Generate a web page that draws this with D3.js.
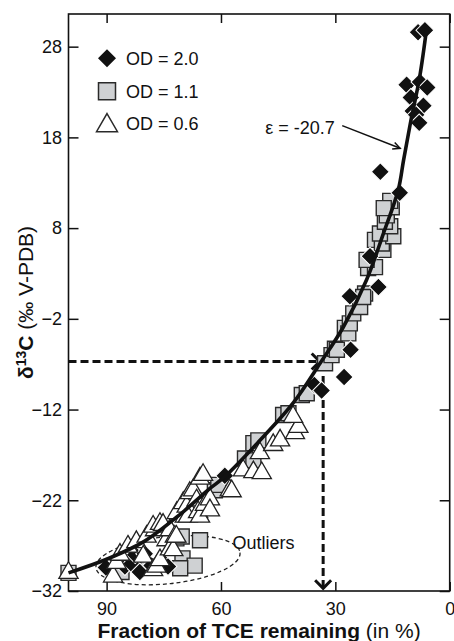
<!DOCTYPE html>
<html>
<head>
<meta charset="utf-8">
<script src="https://cdn.jsdelivr.net/npm/d3@7"></script>
<style>
body { margin: 0; background: #fff; }
svg text { font-family: "Liberation Sans", Arial, sans-serif; fill: #111; }
</style>
</head>
<body>
<div id="chart"></div>
<script>
// fraction of TCE remaining (%), delta 13C (per mil)
const od20Points = [
    [8.3, 29.6], [6.5, 29.8], [11.3, 23.8], [7.8, 24.1], [5.9, 23.5], [10.2, 22.4],
    [6.9, 21.5], [9.7, 20.9], [8.8, 20.5], [8.0, 19.6], [18.2, 14.2], [13.1, 11.9],
    [20.9, 4.9], [18.7, 1.5], [26.2, 0.5], [26.0, -5.4], [27.7, -8.4], [35.5, -9.3],
    [33.6, -9.9], [59.0, -19.3], [65.3, -22.0], [90.2, -29.4], [85.2, -29.3],
    [83.5, -29.0], [81.3, -29.9], [82.5, -28.0], [80.0, -27.9], [78.2, -29.2],
    [75.6, -28.6], [73.9, -29.3]
];

const od11Points = [
    [100, -30.0], [86.1, -29.9], [79.1, -29.3], [70.1, -28.4], [66.9, -29.2], [70.7, -29.5],
    [71.7, -26.2], [65.5, -26.4], [70.3, -26.0], [61.6, -20.9], [60.7, -20.3], [53.7, -17.4],
    [51.5, -17.6], [51.5, -15.7], [50.2, -15.4], [43.7, -12.6], [42.3, -12.4], [38.8, -10.4],
    [37.5, -10.2], [32.7, -6.9], [31.0, -6.0], [30.1, -5.3], [29.6, -5.4], [27.5, -3.0],
    [26.6, -3.6], [26.2, -2.5], [25.3, -1.4], [23.5, -0.7], [22.2, 0.8], [22.7, 0.4],
    [21.4, 3.6], [19.6, 3.7], [21.8, 4.5], [17.4, 5.6], [19.6, 6.7], [17.8, 6.3],
    [14.8, 7.1], [18.3, 7.4], [15.6, 8.2], [17.0, 8.7], [16.5, 9.4], [15.2, 10.3],
    [15.6, 11.0], [17.3, 10.2]
];

const od06Points = [
    [100, -30.0], [88.3, -30.4], [87.4, -28.9], [86.5, -28.0], [84.4, -27.1], [82.2, -26.6],
    [80.4, -28.2], [79.5, -26.0], [77.8, -29.7], [77.3, -25.3], [77.8, -24.9], [76.9, -29.3],
    [76.0, -28.6], [76.0, -24.6], [75.2, -24.7], [74.3, -26.4], [73.4, -25.3], [73.4, -27.4],
    [72.5, -27.5], [72.1, -26.0], [71.7, -26.0], [71.6, -23.4], [69.9, -22.3], [69.5, -23.8],
    [69.0, -22.7], [68.7, -23.8], [68.2, -21.2], [67.3, -20.9], [66.4, -22.0], [66.0, -23.3],
    [65.5, -23.8], [65.5, -19.6], [64.7, -19.2], [64.2, -22.5], [62.9, -21.9], [62.9, -23.1],
    [57.7, -20.9], [57.2, -21.0], [54.2, -18.7], [51.5, -18.9], [49.3, -19.0], [49.8, -16.8],
    [46.3, -15.9], [44.5, -15.4], [40.6, -14.6], [39.7, -13.9], [41.1, -12.8]
];

// Rayleigh fit
const fitCurve = [
    [100, -30.0], [90, -28.5], [80, -26.5], [70, -23.3], [62.9, -20.7], [59, -19.4],
    [50, -15.5], [41.1, -11.3], [34, -6.9], [27.9, -2.9], [21.8, 2.3], [17.4, 7.4],
    [13.5, 12.2], [12.1, 15.5], [10.2, 19.8], [7.9, 24.6], [6.0, 30.2]
];

const xTicks = [90, 60, 30, 0];
const yTicks = [28, 18, 8, -2, -12, -22, -32];
const legendLabels = ["OD = 2.0", "OD = 1.1", "OD = 0.6"];
const epsilonLabel = "\u03b5 = -20.7";
const halfPoint = [33.2, -6.7];

function drawIsotopeChart() {
    let margin = {top: 14, right: 4.3, bottom: 50, left: 68.5};
    let width = 454 - margin.left - margin.right,
        height = 641 - margin.top - margin.bottom;

    let svg = d3.select("#chart").
    append("svg").
    attr("width", 454).
    attr("height", 641).
    append("g").
    attr("transform", "translate(" + margin.left + "," + margin.top + ")");

    let x = d3.scaleLinear().domain([100, 0]).range([0, width]);
    let y = d3.scaleLinear().domain([-32, 31.6]).range([height, 0]);

    let styleAxis = g => {
        g.select(".domain").remove();
        g.selectAll(".tick line").attr("stroke", "#111").attr("stroke-width", 1.5);
        g.selectAll("text").style("font-size", "18px").attr("fill", "#111");
    };

    svg.append("g").
    attr("transform", "translate(0," + height + ")").
    call(d3.axisBottom(x).tickValues(xTicks).tickSizeInner(-9).tickSizeOuter(0).tickPadding(11)).
    call(styleAxis);
    svg.append("g").
    call(d3.axisTop(x).tickValues(xTicks).tickSizeInner(-9).tickSizeOuter(0).tickFormat("")).
    call(styleAxis);
    svg.append("g").
    call(d3.axisLeft(y).tickValues(yTicks).tickSizeInner(-10).tickSizeOuter(0).tickPadding(6.5)).
    call(styleAxis);
    svg.append("g").
    attr("transform", "translate(" + width + ",0)").
    call(d3.axisRight(y).tickValues(yTicks).tickSizeInner(-10).tickSizeOuter(0).tickFormat("")).
    call(styleAxis);

    svg.append("rect").
    attr("width", width).
    attr("height", height).
    attr("fill", "none").
    attr("stroke", "#111").
    attr("stroke-width", 1.6);

    // outlier ellipse
    let ellCx = x(73.9), ellCy = y(-28.6);
    svg.append("ellipse").
    attr("cx", ellCx).
    attr("cy", ellCy).
    attr("rx", x(100 - 19) - x(100)).
    attr("ry", y(-30) - y(-27.4)).
    attr("transform", "rotate(-6," + ellCx + "," + ellCy + ")").
    attr("fill", "none").
    attr("stroke", "#222").
    attr("stroke-width", 1.3).
    attr("stroke-dasharray", "4,3");

    svg.append("text").
    attr("x", x(57)).
    attr("y", y(-27.4)).
    style("font-size", "18px").
    text("Outliers");

    // dashed guides to the 50% shift point
    let dashed = (x1, y1, x2, y2) => svg.append("line").
    attr("x1", x1).attr("y1", y1).attr("x2", x2).attr("y2", y2).
    attr("stroke", "#111").
    attr("stroke-width", 3).
    attr("stroke-dasharray", "8,4");

    dashed(x(100), y(halfPoint[1]), x(halfPoint[0] + 0.9), y(halfPoint[1]));
    dashed(x(halfPoint[0]), y(-8.3), x(halfPoint[0]), y(-31.7));

    let chevron = (px, py, dx, dy) => svg.append("path").
    attr("d", "M" + (px - dx - dy) + "," + (py - dy + dx) + "L" + px + "," + py + "L" + (px - dx + dy) + "," + (py - dy - dx)).
    attr("fill", "none").
    attr("stroke", "#111").
    attr("stroke-width", 3);

    chevron(x(halfPoint[0] + 0.9), y(halfPoint[1]), 8, 0);
    chevron(x(halfPoint[0]), y(-31.7), 0, 8);

    // markers
    let squareSym = d3.symbol(d3.symbolSquare, 225);
    let diamondSym = d3.symbol(d3.symbolSquare, 160);
    let triangleSym = d3.symbol(d3.symbolTriangle, 160);

    svg.selectAll(".od11").
    data(od11Points).
    enter().
    append("path").
    attr("class", "od11").
    attr("d", squareSym).
    attr("transform", d => "translate(" + x(d[0]) + "," + y(d[1]) + ")").
    attr("fill", "#cfd1d3").
    attr("stroke", "#2a2a2a").
    attr("stroke-width", 1.4);

    svg.selectAll(".od20").
    data(od20Points).
    enter().
    append("path").
    attr("class", "od20").
    attr("d", diamondSym).
    attr("transform", d => "translate(" + x(d[0]) + "," + y(d[1]) + ") rotate(45)").
    attr("fill", "#111").
    attr("stroke", "#fff").
    attr("stroke-width", 1);

    svg.selectAll(".od06").
    data(od06Points).
    enter().
    append("path").
    attr("class", "od06").
    attr("d", triangleSym).
    attr("transform", d => "translate(" + x(d[0]) + "," + y(d[1]) + ")").
    attr("fill", "#fff").
    attr("stroke", "#222").
    attr("stroke-width", 1.3);

    svg.append("path").
    datum(fitCurve).
    attr("d", d3.line().x(d => x(d[0])).y(d => y(d[1])).curve(d3.curveCatmullRom.alpha(0.5))).
    attr("fill", "none").
    attr("stroke", "#111").
    attr("stroke-width", 3.6);

    // epsilon annotation
    svg.append("text").
    attr("x", x(48.4)).
    attr("y", y(18.35)).
    style("font-size", "18px").
    text(epsilonLabel);

    let ax1 = x(28.2), ay1 = y(19.3), ax2 = x(13.0), ay2 = y(16.8);
    svg.append("line").
    attr("x1", ax1).attr("y1", ay1).attr("x2", ax2).attr("y2", ay2).
    attr("stroke", "#111").
    attr("stroke-width", 1.5);
    let ang = Math.atan2(ay2 - ay1, ax2 - ax1);
    let head = 8;
    svg.append("path").
    attr("d", "M" + (ax2 - head * Math.cos(ang - 0.45)) + "," + (ay2 - head * Math.sin(ang - 0.45)) +
    "L" + ax2 + "," + ay2 +
    "L" + (ax2 - head * Math.cos(ang + 0.45)) + "," + (ay2 - head * Math.sin(ang + 0.45))).
    attr("fill", "none").
    attr("stroke", "#111").
    attr("stroke-width", 1.5);

    // legend
    let legend = svg.append("g").attr("transform", "translate(38.5,44.3)");
    let legendSyms = [d3.symbol(d3.symbolSquare, 162)(), d3.symbol(d3.symbolSquare, 289)(), d3.symbol(d3.symbolTriangle, 190)()];
    let legendItem = legend.selectAll("g").
    data(legendLabels).
    enter().
    append("g").
    attr("transform", (d, i) => "translate(0," + (i * 32.9) + ")");

    legendItem.append("path").
    attr("d", (d, i) => legendSyms[i]).
    attr("transform", (d, i) => i === 0 ? "rotate(45)" : (i === 2 ? "translate(0,1.5)" : "")).
    attr("fill", (d, i) => ["#111", "#cfd1d3", "#fff"][i]).
    attr("stroke", (d, i) => i === 0 ? "none" : "#2a2a2a").
    attr("stroke-width", 1.5);

    legendItem.append("text").
    attr("x", 19).
    attr("dy", "0.35em").
    style("font-size", "18px").
    text(d => d);

    // axis titles
    let xTitle = svg.append("text").
    attr("x", width / 2).
    attr("y", height + 47).
    attr("text-anchor", "middle").
    style("font-size", "21px");
    xTitle.append("tspan").style("font-weight", "bold").text("Fraction of TCE remaining");
    xTitle.append("tspan").text("\u00a0(in %)");

    let yTitle = svg.append("text").
    attr("transform", "rotate(-90)").
    attr("x", -height / 2).
    attr("y", -35.5).
    attr("text-anchor", "middle").
    style("font-size", "21px");
    yTitle.append("tspan").style("font-weight", "bold").text("\u03b4");
    yTitle.append("tspan").style("font-weight", "bold").style("font-size", "14px").attr("dy", -7).text("13");
    yTitle.append("tspan").style("font-weight", "bold").attr("dy", 7).text("C");
    yTitle.append("tspan").text("\u00a0(\u2030 V-PDB)");
}

document.addEventListener("DOMContentLoaded", () => {
    drawIsotopeChart();
});
</script>
</body>
</html>
